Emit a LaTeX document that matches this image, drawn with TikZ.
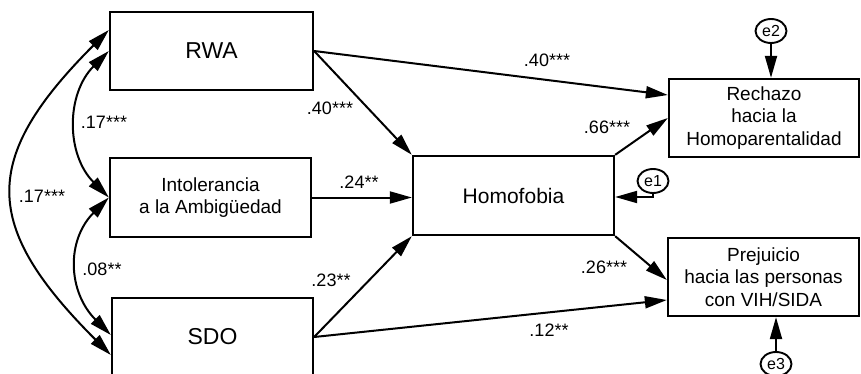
\documentclass[tikz,border=0pt]{standalone}
\usepackage{fontspec}
\setmainfont{Liberation Sans}
\usetikzlibrary{arrows.meta,shapes.geometric}
\begin{document}
\begin{tikzpicture}[x=1pt,y=-1pt,
  box/.style={draw,line width=2.3pt,rectangle,inner sep=0pt,align=center},
  errnode/.style={draw,ellipse,line width=1.9pt,minimum width=31pt,minimum height=24pt,inner sep=0pt,font=\fontsize{16}{18}\selectfont},
  pathar/.style={line width=2pt,-{Triangle[length=22pt,width=12pt]}},
  covar/.style={line width=2pt,{Triangle[length=22pt,width=12pt]}-{Triangle[length=22pt,width=12pt]}},
  lab/.style={font=\fontsize{18}{20}\selectfont,inner sep=0pt}]
\clip (0,0) rectangle (861,374);
\fill[white] (0,0) rectangle (861,374);
% boxes
\node[box,minimum width=203pt,minimum height=78pt,font=\fontsize{23}{26}\selectfont] (rwa) at (211.5,51) {RWA};
\node[box,minimum width=201pt,minimum height=79pt,font=\fontsize{19}{22.5}\selectfont] (intol) at (210.5,197.5) {Intolerancia\\a la Ambigüedad};
\node[box,minimum width=201pt,minimum height=78pt,font=\fontsize{23}{26}\selectfont] (sdo) at (212.5,337) {SDO};
\node[box,minimum width=201pt,minimum height=79pt,font=\fontsize{21}{24}\selectfont] (homo) at (513.5,195.5) {Homofobia};
\node[box,minimum width=190pt,minimum height=78pt,font=\fontsize{19}{22.5}\selectfont] (rech) at (764,118) {Rechazo\\hacia la\\Homoparentalidad};
\node[box,minimum width=191pt,minimum height=78pt,font=\fontsize{19}{22.5}\selectfont] (prej) at (763.5,277) {Prejuicio\\hacia las personas\\con VIH/SIDA};
% error terms
\node[errnode] (e1) at (653,181) {e1};
\node[errnode] (e2) at (771,31) {e2};
\node[errnode] (e3) at (776,364) {e3};
% paths
\draw[pathar] (rwa.east) -- ([yshift=23pt]rech.west);
\draw[pathar] (rwa.east) -- (homo.north west);
\draw[pathar] (intol.east) -- (intol.east -| homo.west);
\draw[pathar] (sdo.east) -- (homo.south west);
\draw[pathar] (sdo.east) -- ([yshift=-23pt]prej.west);
\draw[pathar] (homo.north east) -- (rech.west);
\draw[pathar] (homo.south east) -- ([yshift=-3pt]prej.west);
\draw[pathar] (e1.south) |- ([yshift=-1.5pt]homo.east);
\draw[pathar] (e2.south) -- (e2.south |- rech.north);
\draw[pathar] (e3.north) -- (e3.north |- prej.south);
% covariances
\draw[covar] (rwa.west) .. controls +(-43,43) and +(-43,-43) .. (intol.west);
\draw[covar] (intol.west) .. controls +(-43,43) and +(-43,-43) .. ([yshift=2pt]sdo.west);
\draw[covar] ([yshift=21pt]rwa.west) .. controls +(-129,129) and +(-129,-129) .. ([yshift=-18pt]sdo.west);
% labels
\node[lab] (l1) at (547,60) {.40***};
\node[lab] (l2) at (330,108) {.40***};
\node[lab] (l3) at (104,122) {.17***};
\node[lab] (l4) at (359,182) {.24**};
\node[lab] (l5) at (42,196) {.17***};
\node[lab] (l6) at (102,269) {.08**};
\node[lab] (l7) at (331,280) {.23**};
\node[lab] (l8) at (607,127) {.66***};
\node[lab] (l9) at (604,267) {.26***};
\node[lab] (l10) at (549,330) {.12**};
\end{tikzpicture}
\end{document}
